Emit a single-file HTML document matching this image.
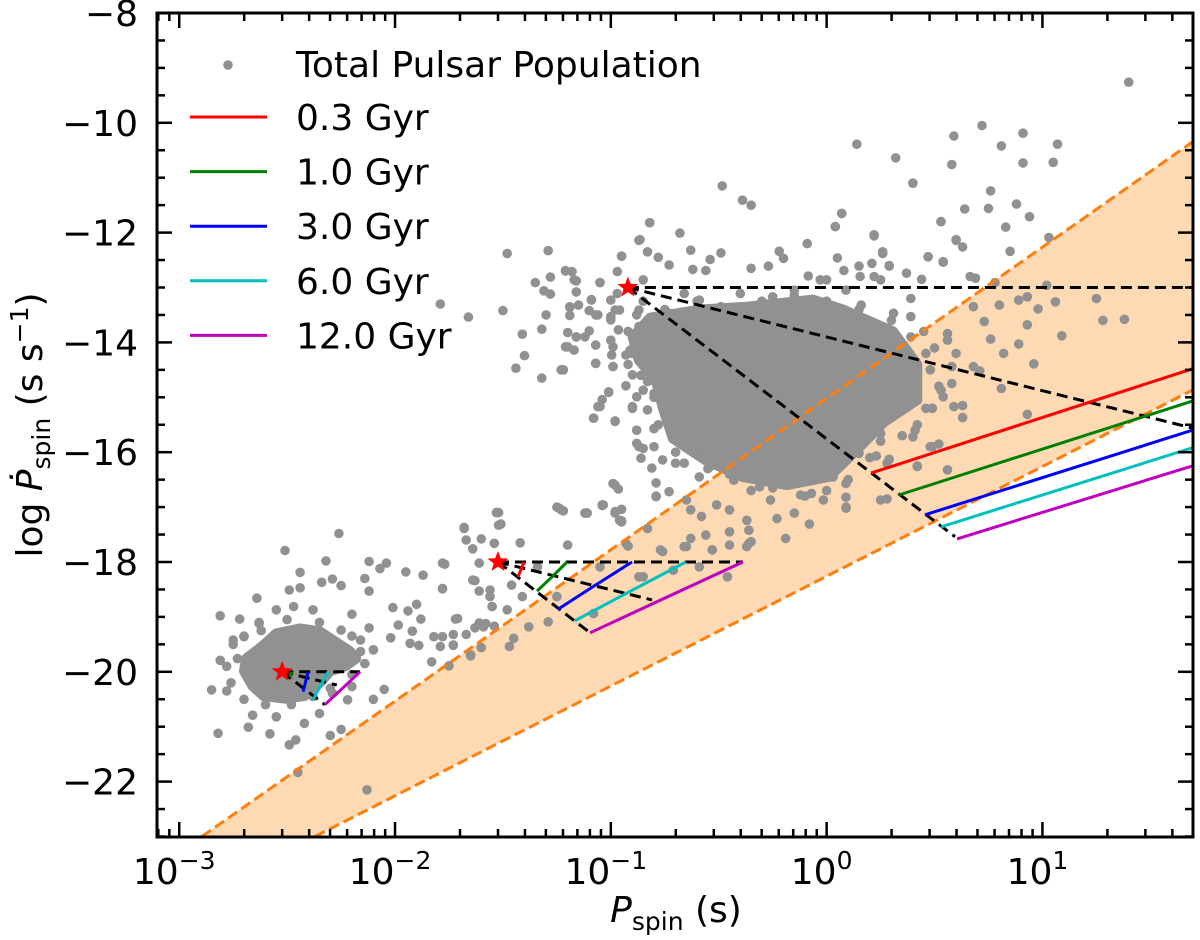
<!DOCTYPE html>
<html><head><meta charset="utf-8"><style>
html,body{margin:0;padding:0;background:#fff}
svg{display:block;font-family:"DejaVu Sans","Liberation Sans",sans-serif}
</style></head><body>
<svg id="chart" xmlns="http://www.w3.org/2000/svg" width="1200" height="940" viewBox="0 0 1200 940">
<defs><clipPath id="clip"><rect x="157" y="13" width="1036" height="824"/></clipPath></defs>
<g id="plot" clip-path="url(#clip)"></g>
<g id="axes"></g>
<g id="legend"></g>
</svg>
<script>
// ---- data ----
const xTickExps = [-3, -2, -1, 0, 1];
const yTickVals = [-8, -10, -12, -14, -16, -18, -20, -22];
const yTickLabels = ["\u22128", "\u221210", "\u221212", "\u221214", "\u221216", "\u221218", "\u221220", "\u221222"];
const bandUpper = [[-2.895, -23], [1.695, -10.35]];
const bandLower = [[-2.371, -23], [1.695, -14.87]];
const starLogP = [-2.523, -1.523, -0.921];
const starLogPdot = [-20, -18, -13];
const legendLabels = ["0.3 Gyr", "1.0 Gyr", "3.0 Gyr", "6.0 Gyr", "12.0 Gyr"];
const trackColors = ["#ff0000", "#008000", "#0000ff", "#00bfbf", "#bf00bf"];
const guides = [
 [[-0.921,-13],[1.695,-13]], [[-0.921,-13],[1.695,-15.56]], [[-0.921,-13],[0.595,-17.54]],
 [[-1.523,-18],[-0.388,-18]], [[-1.523,-18],[-0.809,-18.69]], [[-1.523,-18],[-1.096,-19.29]],
 [[-2.523,-20],[-2.162,-20]], [[-2.523,-20],[-2.27,-20.24]], [[-2.523,-20],[-2.325,-20.6]]
];
const tracksBig = [
 [[0.206,-16.38],[1.695,-14.48]], [[0.335,-16.78],[1.695,-15.07]], [[0.456,-17.14],[1.695,-15.60]],
 [[0.53,-17.36],[1.695,-15.92]], [[0.604,-17.58],[1.695,-16.25]]
];
const tracksMid = [
 [[-1.430,-18.27],[-1.402,-18.0]], [[-1.342,-18.53],[-1.27,-18.26],[-1.203,-18.0]],
 [[-1.245,-18.86],[-1.087,-18.46],[-0.902,-18.0]], [[-1.166,-19.07],[-0.928,-18.57],[-0.652,-18.0]],
 [[-1.096,-19.29],[-0.740,-18.64],[-0.388,-18.0]]
];
const tracksSmall = [
 [[-2.5,-20.03],[-2.498,-20.0]], [[-2.486,-20.1],[-2.480,-20.0]], [[-2.426,-20.36],[-2.403,-20.0]],
 [[-2.38,-20.51],[-2.311,-20.0]], [[-2.325,-20.6],[-2.162,-20.0]]
];
const denseMain = [[-0.818,-13.55],[-0.587,-13.40],[-0.369,-13.35],[-0.063,-13.22],[0.076,-13.40],[0.308,-13.80],[0.420,-14.40],[0.420,-15.05],[0.267,-15.45],[0.142,-15.95],[0.012,-16.45],[-0.184,-16.60],[-0.389,-16.45],[-0.560,-16.15],[-0.713,-15.75],[-0.760,-15.18],[-0.792,-14.68],[-0.871,-14.32],[-0.899,-13.90]];
const denseSmall = [[-2.69,-19.76],[-2.615,-19.53],[-2.55,-19.30],[-2.44,-19.21],[-2.35,-19.26],[-2.28,-19.44],[-2.21,-19.62],[-2.18,-19.76],[-2.23,-19.90],[-2.30,-19.99],[-2.35,-20.21],[-2.42,-20.44],[-2.51,-20.49],[-2.61,-20.44],[-2.66,-20.26],[-2.70,-19.99]];
const pulsars = [
[-2.26,-17.48],[-2.51,-17.79],[-2.32,-17.98],[-2.12,-17.99],[-2.04,-18.02],[-1.77,-18.04],[-2.07,-18.12],[-1.95,-18.18],[-1.87,-18.24],[-2.44,-18.19],[-2.29,-18.31],[-2.34,-18.37],[-2.25,-18.43],[-2.14,-18.30],[-2.49,-18.51],[-2.44,-18.47],[-2.12,-18.53],[-1.78,-18.49],[-2.64,-18.66],[-2.01,-18.83],[-1.94,-18.89],[-1.90,-18.77],[-1.88,-19.04],[-2.20,-18.95],[-2.81,-18.98],[-2.72,-19.04],[-2.63,-19.10],[-1.985,-19.15],[-1.92,-19.26],[-2.12,-19.20],[-1.72,-19.04],[-1.82,-19.36],[-1.78,-19.36],[-1.73,-19.32],[-1.67,-19.32],[-1.63,-19.20],[-1.58,-19.12],[-1.93,-19.48],[-1.89,-19.52],[-1.79,-19.54],[-1.73,-19.52],[-2.02,-19.38],[-2.16,-19.42],[-1.83,-19.82],[-1.75,-19.89],[-1.65,-19.71],[-1.60,-19.56],[-2.85,-20.33],[-2.78,-20.35],[-2.82,-21.12],[-2.68,-21.01],[-2.58,-21.13],[-2.49,-21.33],[-2.46,-21.24],[-2.30,-21.16],[-2.25,-21.05],[-2.10,-20.50],[-2.05,-20.32],[-2.22,-20.51],[-2.45,-21.83],[-2.13,-22.15],[-1.53,-17.10],[-1.52,-17.33],[-1.68,-17.39],[-1.67,-17.60],[-1.60,-17.58],[-1.54,-17.66],[-1.64,-17.76],[-1.61,-18.02],[-1.63,-18.34],[-1.61,-18.53],[-1.56,-18.63],[-1.55,-18.81],[-1.54,-19.17],[-1.61,-19.11],
[-2.81,-19.79],[-2.73,-19.76],[-2.10,-19.60],[-2.16,-19.63],[-2.25,-19.24],[-2.38,-18.87],[-2.47,-18.81],[-2.55,-18.87],[-2.63,-19.12],[-2.70,-19.36],[-2.75,-19.42],[-2.66,-20.79],[-2.55,-20.82],[-2.42,-20.94],[-2.35,-20.76],[-2.29,-20.39],[-2.20,-20.27],
[-2.75,-19.5],[-2.78,-19.9],[-2.76,-20.2],[-2.7,-20.5],[-2.6,-20.6],[-2.48,-20.6],[-2.38,-20.45],[-2.3,-20.3],[-2.2,-20.05],[-2.14,-19.85],[-2.1,-19.6],[-2.2,-19.35],[-2.35,-19.1],[-2.5,-19.05],[-2.62,-19.25],[-2.7,-19.35],
[-1.79,-13.30],[-1.66,-13.54],[-1.50,-13.42],[-1.48,-12.38],[-1.29,-12.33],[-1.21,-12.70],[-1.18,-12.71],[-1.28,-12.81],[-1.35,-12.91],[-1.31,-13.06],[-1.28,-13.12],[-1.16,-12.88],[-1.05,-12.91],[-0.95,-12.43],[-0.865,-12.13],[-0.82,-11.82],[-0.83,-12.35],[-0.97,-12.71],[-1.16,-13.08],[-1.09,-13.22],[-1.19,-13.36],[-1.15,-13.32],[-1.30,-13.50],[-1.19,-13.51],[-1.10,-13.42],[-1.06,-13.50],[-1.32,-13.76],[-1.41,-13.85],[-1.40,-14.24],[-1.44,-14.47],[-1.32,-14.65],[-1.23,-14.50],[-1.20,-13.82],[-1.16,-13.90],[-1.10,-13.79],[-1.07,-14.05],[-1.20,-14.08],[-1.17,-14.14],[-1.07,-14.38],[-0.996,-14.23],[-0.93,-14.23],[-0.99,-14.44],[-0.92,-14.40],[-0.93,-14.79],[-0.90,-14.59],[-1.01,-14.91],[-1.04,-15.04],[-1.06,-15.17],[-1.08,-15.38],[-0.98,-15.44],[-0.90,-15.20],[-0.88,-14.99],[-0.99,-14.08],[-1.00,-13.53],[-0.965,-13.77],[-0.98,-13.41],[-1.00,-13.23],[-0.88,-15.84],[-0.85,-15.93],[-0.86,-16.11],[-0.81,-16.29],[-0.80,-15.57],[-0.99,-16.57],[-0.965,-16.67],[-0.79,-16.56],[-0.79,-16.80],[-1.035,-16.96],[-1.11,-17.11],[-1.24,-17.02],[-1.22,-17.07],[-0.98,-17.08],[-0.95,-17.04],[-0.95,-17.27],[-0.83,-17.39],[-1.53,-17.10],[-1.51,-17.31],[-1.68,-17.37],
[-0.83,-13.71],[-0.82,-13.96],[-0.84,-14.20],[-0.81,-14.44],[-0.83,-14.71],[-0.80,-14.93],[-0.85,-13.84],[-0.865,-14.02],
[-0.85,-13.25],[-0.75,-13.4],[-0.6,-13.25],[-0.45,-13.4],[-0.3,-13.25],[-0.15,-13.15],[0.0,-13.25],[0.15,-13.4],[0.3,-13.6],
[0.45,-13.8],[0.5,-14.1],[0.48,-14.5],[0.52,-14.8],[0.46,-15.2],[0.42,-15.5],[0.35,-15.7],
[0.25,-15.8],[0.2,-16.1],[0.1,-16.5],[0.0,-16.7],[-0.1,-16.8],[-0.25,-16.65],[-0.35,-16.7],[-0.45,-16.4],[-0.55,-16.3],[-0.62,-16.0],[-0.7,-16.0],
[-0.78,-15.5],[-0.8,-15.0],[-0.86,-14.6],[-0.9,-14.2],[-0.92,-13.8],[-0.88,-13.5],
[-0.484,-11.15],[-0.39,-11.41],[-0.35,-11.50],[0.07,-11.65],[0.04,-11.89],[0.40,-11.10],[0.53,-11.80],[0.60,-12.13],[0.22,-12.04],[-0.09,-12.20],[-0.22,-12.34],[-0.20,-12.47],[-0.49,-12.37],[-0.54,-12.49],[-0.63,-12.32],[-0.68,-12.01],[-0.82,-11.82],[-0.87,-12.14],[-0.95,-12.43],[-0.78,-12.45],[-0.73,-12.59],[-0.62,-12.67],[-0.56,-12.69],[-0.35,-12.65],[-0.27,-12.61],[0.05,-12.46],[0.08,-12.69],[0.15,-12.61],[0.21,-12.56],[0.29,-12.61],[0.26,-12.35],[0.47,-12.44],[0.54,-12.53],[0.37,-12.74],[0.44,-12.85],[0.155,-12.80],[-0.085,-12.79],[-0.03,-12.86],[0.00,-12.86],[0.22,-12.80],[0.25,-12.86],[0.39,-13.20],[0.16,-13.32],[0.31,-13.47],[0.39,-13.53],[0.56,-13.96],[0.58,-14.44],[0.53,-14.87],[0.59,-15.17],[0.49,-15.90],[0.56,-16.32],[0.41,-15.60],[0.42,-16.26],[0.28,-16.20],[0.25,-16.87],[0.09,-17.02],[0.09,-16.57],[-0.07,-16.75],[-0.12,-16.78],[-0.19,-17.57],[-0.23,-17.21],[-0.37,-17.24],[-0.35,-17.63],[-0.37,-17.72],[-0.45,-17.45],[-0.53,-17.78],[-0.63,-17.57],[-0.65,-17.72],[-0.77,-17.78],[-0.85,-18.27],[-0.93,-17.66],[-0.96,-17.24],[-0.98,-17.11],[-0.98,-16.60],[-1.12,-17.11],[-1.23,-17.05],[-1.04,-16.96],[-0.79,-16.81],[-0.73,-16.72],[-0.65,-16.87],[-0.63,-17.05],[-0.51,-16.96],[-0.45,-17.05],[-0.87,-15.90],[-0.80,-15.57],[-0.76,-16.14],[-0.70,-16.20],[-1.08,-15.38],[-1.05,-15.17],[-1.01,-14.90],[-0.98,-15.43],[-0.90,-15.17],[-1.07,-14.38],[-1.22,-14.50],[-1.21,-14.08],[-1.16,-13.90],[-1.19,-13.35],[-1.17,-12.86],[-1.21,-12.69],[-1.05,-12.91],[-1.09,-13.23],[-1.07,-13.50],[-1.12,-13.90],[-1.00,-13.59],[-1.00,-13.96],[-0.99,-14.44],[-0.91,-14.14],[-0.96,-13.41],[-0.87,-13.41],[-0.97,-13.11],[-0.85,-12.86],[-0.87,-13.71],[-0.85,-14.26],[-0.82,-14.69],[-0.74,-14.99],[-0.73,-15.29],[-0.68,-15.66],[-0.59,-15.90],[-0.54,-16.26],[-0.59,-16.45],[-0.31,-16.63],[-0.26,-16.87],[-0.15,-17.11],[-0.015,-16.87],[0.03,-16.45],[0.15,-16.02],[0.25,-15.66],[0.31,-15.29],[0.40,-14.69],[0.46,-14.20],[0.39,-13.90],[0.09,-13.05],[-0.15,-13.05],[-0.25,-13.17],[-0.40,-13.11],[-0.49,-13.35],[-0.59,-13.23],[-0.66,-13.11],[-0.73,-13.47],[-0.77,-13.90],[-0.71,-14.38],[-0.66,-14.81],[-0.62,-15.23],[-0.85,-14.87],[-0.83,-15.23],[-0.88,-15.60],[-0.80,-15.90],[-0.66,-16.20],[-0.43,-16.51],
[0.14,-10.39],[0.32,-10.64],[0.40,-11.10],[0.59,-10.24],[0.72,-10.05],[0.91,-10.19],[0.81,-10.42],[1.07,-10.39],[0.58,-10.76],[0.91,-10.73],[1.05,-10.72],[0.76,-11.24],[0.64,-11.57],[0.75,-11.56],[0.88,-11.48],[0.94,-11.71],[0.07,-11.65],[0.04,-11.89],[0.53,-11.80],[0.83,-11.90],[1.03,-12.09],[0.85,-12.34],[0.60,-12.14],[0.63,-12.26],[0.47,-12.44],[0.54,-12.54],[0.22,-12.06],[0.26,-12.38],[0.29,-12.60],[0.665,-12.80],[0.69,-12.83],[0.78,-12.91],[1.02,-12.96],[0.80,-13.32],[0.89,-13.23],[0.93,-13.17],[0.98,-13.39],[1.06,-13.26],[1.38,-13.58],[1.09,-13.88],[0.93,-13.68],[0.89,-14.03],[0.96,-14.39],[0.81,-14.84],[0.93,-15.31],[0.63,-15.15],[0.63,-15.37],[0.76,-13.94],[0.82,-14.20],[0.68,-14.44],[0.71,-14.52],[0.58,-14.75],[0.54,-14.99],[0.49,-15.20],[0.52,-15.85],[0.48,-15.90],[0.42,-16.25],[0.28,-16.85],[0.09,-16.82],[0.09,-17.00],[-0.08,-17.31],[0.23,-16.07],[0.29,-16.13],[0.40,-15.72],[0.68,-13.35],[0.73,-13.62],[0.56,-13.84],[0.60,-14.20],[1.40,-9.26],[1.25,-13.2],[1.28,-13.6],
[-1.52,-17.10],[-1.51,-17.31],[-1.25,-17.00],[-1.11,-17.11],[-1.04,-16.97],[-0.95,-17.25],[-1.20,-17.69],[-1.42,-17.65],[-1.64,-18.33],[-1.56,-18.51],[-1.46,-18.42],[-1.41,-18.63],[-1.48,-18.87],[-1.55,-18.81],[-1.59,-19.18],[-1.71,-19.03],[-1.45,-19.39],[-1.38,-19.18],[-1.25,-18.63],[-1.29,-19.09],[-1.08,-18.94],[-0.92,-17.71],[-0.76,-17.81],[-0.66,-17.72],[-0.53,-17.78],[-0.45,-17.69],[-0.56,-17.51],[-0.58,-17.17],[-0.36,-17.42],[-0.36,-17.66],[-0.46,-18.27],[-0.59,-18.09],[-0.87,-18.27],[-0.71,-18.15],[-1.05,-18.09],[-1.34,-18.09],[-1.78,-18.02],[-1.78,-18.48],[-1.73,-19.51],[-1.65,-19.69],[-1.47,-19.54]
];

// ---- scales ----
const X = l => 157 + (l + 3.103) * 215.8;
const Y = v => 13 + (-8 - v) * 54.9;
const NS = "http://www.w3.org/2000/svg";
function mk(tag, attrs, parent) {
  const e = document.createElementNS(NS, tag);
  for (const k in attrs) e.setAttribute(k, attrs[k]);
  parent.appendChild(e);
  return e;
}
const plot = document.getElementById("plot");
const axes = document.getElementById("axes");
const legend = document.getElementById("legend");
const pts = arr => arr.map(p => X(p[0]).toFixed(1) + "," + Y(p[1]).toFixed(1)).join(" ");

const band = mk("polygon", {points: pts([bandUpper[0], bandUpper[1], bandLower[1], bandLower[0]]), fill: "#fdd9b4"}, plot);



[denseMain, denseSmall].forEach((poly, i) => {
  const d = mk("polygon", {points: pts(poly), fill: "#919191", stroke: "#919191", "stroke-width": 10, "stroke-linejoin": "round"}, plot);
  
  
});
const sg = mk("g", {}, plot);


pulsars.forEach(p => {
  const c = mk("circle", {cx: X(p[0]).toFixed(1), cy: Y(p[1]).toFixed(1), r: 4.8, fill: "#919191"}, sg);
  
  
});
[bandUpper, bandLower].forEach((ln, i) => {
  const l = mk("polyline", {points: pts(ln), fill: "none", stroke: "#ff7f0e", "stroke-width": 3, "stroke-dasharray": "11,5"}, plot);
  
  
});
guides.forEach(g => {
  const l = mk("polyline", {points: pts(g), fill: "none", stroke: "#000", "stroke-width": 3, "stroke-dasharray": "11,6"}, plot);
  
  
});
[tracksBig, tracksMid, tracksSmall].forEach(group => {
  group.forEach((t, i) => {
    const l = mk("polyline", {points: pts(t), fill: "none", stroke: trackColors[i], "stroke-width": 3}, plot);
    
    
  });
});
function starPath(cx, cy, R) {
  const r = R * 0.42; let s = "";
  for (let k = 0; k < 10; k++) {
    const a = -Math.PI / 2 + k * Math.PI / 5, rr = k % 2 ? r : R;
    s += (k ? "L" : "M") + (cx + rr * Math.cos(a)).toFixed(1) + "," + (cy + rr * Math.sin(a)).toFixed(1);
  }
  return s + "Z";
}
starLogP.forEach((lp, i) => {
  const s = mk("path", {d: starPath(X(lp), Y(starLogPdot[i]), 11), fill: "#ff0000"}, plot);
  
  
});

// ---- axes ----
const frame = mk("rect", {x: 157, y: 13, width: 1036, height: 824, fill: "none", stroke: "#000", "stroke-width": 3}, axes);


function tick(x1, y1, x2, y2, w) { mk("line", {x1, y1, x2, y2, stroke: "#000", "stroke-width": w}, axes); }
for (let e = -4; e <= 1; e++) {
  for (let m = 1; m <= 9; m++) {
    const lv = e + Math.log10(m);
    if (lv < -3.103 || lv > 1.695) continue;
    const x = X(lv), L = m === 1 ? 15 : 8;
    tick(x, 837, x, 837 - L, 2.5);
    tick(x, 13, x, 13 + L, 2.5);
  }
}
xTickExps.forEach(e => {
  const t = mk("text", {x: X(e) - 5, y: 884, "text-anchor": "middle", "font-size": 36}, axes);
  
  
  t.innerHTML = '10<tspan dy="-15" font-size="25">' + (e < 0 ? "\u2212" + (-e) : e) + '</tspan>';
});
for (let v = -23; v <= -8; v += 0.5) {
  const y = Y(v), major = Math.abs(v % 2) === 0;
  const L = major ? 15 : 8;
  tick(157, y, 157 + L, y, 2.5);
  tick(1193, y, 1193 - L, y, 2.5);
}
yTickVals.forEach((v, i) => {
  const t = mk("text", {x: 138, y: Y(v) + 13, "text-anchor": "end", "font-size": 36}, axes);
  
  
  t.textContent = yTickLabels[i];
});
const xt = mk("text", {x: 676, y: 922, "text-anchor": "middle", "font-size": 36}, axes);


xt.innerHTML = '<tspan font-style="italic">P</tspan><tspan font-size="25" dy="8">spin</tspan><tspan dy="-8"> (s)</tspan>';
const yt = mk("text", {x: 0, y: 0, "text-anchor": "middle", "font-size": 36, transform: "translate(42,425) rotate(-90)"}, axes);


yt.innerHTML = 'log  <tspan font-style="italic">P\u0307</tspan><tspan font-size="25" dy="8">spin</tspan><tspan dy="-8"> (s s</tspan><tspan font-size="25" dy="-14">\u22121</tspan><tspan dy="14">)</tspan>';

// ---- legend ----
const ld = mk("circle", {cx: 228, cy: 65, r: 4.8, fill: "#919191"}, legend);


const lt = mk("text", {x: 296, y: 77, "font-size": 36}, legend);


lt.textContent = "Total Pulsar Population";
legendLabels.forEach((lab, i) => {
  const y = 117 + i * 54.6;
  const l = mk("line", {x1: 190, y1: y, x2: 267, y2: y, stroke: trackColors[i], "stroke-width": 3}, legend);
  
  
  const t = mk("text", {x: 296, y: y + 13, "font-size": 36}, legend);
  
  
  t.textContent = lab;
});
</script>
</body></html>
